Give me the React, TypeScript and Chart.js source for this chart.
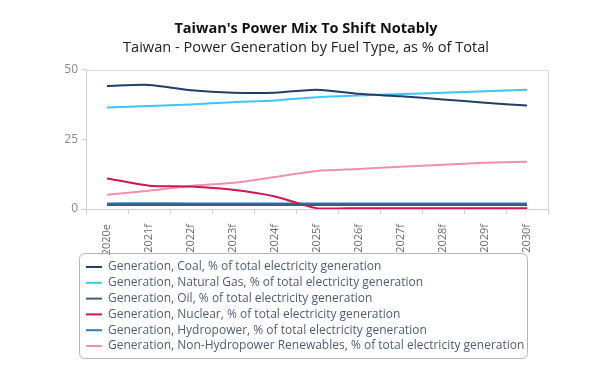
import React, { useEffect, useRef } from "react";
import { Chart, registerables } from "chart.js";

Chart.register(...registerables);

const categories = ["2020e", "2021f", "2022f", "2023f", "2024f", "2025f", "2026f", "2027f", "2028f", "2029f", "2030f"];
const coal = [44.2, 44.6, 42.7, 41.8, 41.8, 42.9, 41.4, 40.5, 39.4, 38.2, 37.2];
const naturalGas = [36.5, 37.0, 37.6, 38.4, 39.0, 40.2, 40.8, 41.3, 41.8, 42.3, 42.9];
const oil = [1.5, 1.5, 1.5, 1.5, 1.5, 1.5, 1.5, 1.5, 1.5, 1.5, 1.5];
const nuclear = [11.0, 8.4, 8.1, 6.9, 4.5, 0.3, 0.3, 0.3, 0.3, 0.3, 0.3];
const hydro = [1.9, 2.0, 1.9, 1.9, 1.9, 1.9, 1.9, 1.9, 1.9, 1.9, 1.9];
const renewables = [5.1, 6.6, 8.3, 9.4, 11.5, 13.7, 14.4, 15.2, 15.9, 16.6, 17.0];
const yTicks = [0, 25, 50];

const seriesNames = [
  "Generation, Coal, % of total electricity generation",
  "Generation, Natural Gas, % of total electricity generation",
  "Generation, Oil, % of total electricity generation",
  "Generation, Nuclear, % of total electricity generation",
  "Generation, Hydropower, % of total electricity generation",
  "Generation, Non-Hydropower Renewables, % of total electricity generation",
];
const seriesColors = ["#213e66", "#3cc6f6", "#3f5b82", "#d0154f", "#2f7fb6", "#ee90b2"];
const seriesData = [coal, naturalGas, oil, nuclear, hydro, renewables];

const FONT = "'Open Sans', sans-serif";

const frameAndLegend = {
  id: "frameAndLegend",
  beforeDatasetsDraw(chart: any) {
    const { ctx, chartArea } = chart;
    ctx.save();
    ctx.strokeStyle = "#d4d8e0";
    ctx.lineWidth = 1;
    ctx.beginPath();
    ctx.moveTo(chartArea.left, chartArea.top + 0.5);
    ctx.lineTo(chartArea.right + 0.5, chartArea.top + 0.5);
    ctx.lineTo(chartArea.right + 0.5, chartArea.bottom);
    ctx.stroke();
    ctx.restore();
  },
  afterDraw(chart: any) {
    const { ctx } = chart;
    ctx.save();
    const bx = 79.5, by = 253.5, bw = 448, bh = 105, r = 6;
    ctx.strokeStyle = "#b4b4b4";
    ctx.lineWidth = 1;
    ctx.beginPath();
    ctx.moveTo(bx + r, by);
    ctx.lineTo(bx + bw - r, by);
    ctx.quadraticCurveTo(bx + bw, by, bx + bw, by + r);
    ctx.lineTo(bx + bw, by + bh - r);
    ctx.quadraticCurveTo(bx + bw, by + bh, bx + bw - r, by + bh);
    ctx.lineTo(bx + r, by + bh);
    ctx.quadraticCurveTo(bx, by + bh, bx, by + bh - r);
    ctx.lineTo(bx, by + r);
    ctx.quadraticCurveTo(bx, by, bx + r, by);
    ctx.stroke();
    ctx.font = `12px ${FONT}`;
    ctx.textBaseline = "middle";
    ctx.textAlign = "left";
    chart.data.datasets.forEach((ds: any, i: number) => {
      const y = 267 + i * 15.8;
      ctx.strokeStyle = ds.borderColor;
      ctx.lineWidth = 2;
      ctx.beginPath();
      ctx.moveTo(86, y);
      ctx.lineTo(102, y);
      ctx.stroke();
      ctx.fillStyle = "#4e5c74";
      ctx.fillText(ds.label, 108, y);
    });
    ctx.restore();
  },
};

export default function App() {
  const ref = useRef<HTMLCanvasElement | null>(null);
  useEffect(() => {
    document.body.style.margin = "0";
    const canvas = ref.current!;
    const chart = new Chart(canvas, {
      type: "line",
      data: {
        labels: categories,
        datasets: seriesNames.map((name, i) => ({
          label: name,
          data: seriesData[i],
          borderColor: seriesColors[i],
          backgroundColor: seriesColors[i],
          borderWidth: i === 4 || i === 2 ? 2.5 : 2,
          pointRadius: 0,
          tension: 0.25,
          fill: false,
        })),
      },
      options: {
        responsive: false,
        animation: false,
        layout: { padding: { left: 64, right: 52, top: 0, bottom: 114 } },
        plugins: {
          legend: { display: false },
          tooltip: { enabled: false },
          title: {
            display: true,
            text: "Taiwan's Power Mix To Shift Notably",
            color: "#111111",
            font: { family: FONT, size: 14.5, weight: "bold" },
            padding: { top: 20, bottom: 2 },
          },
          subtitle: {
            display: true,
            text: "Taiwan - Power Generation by Fuel Type, as % of Total",
            color: "#222222",
            font: { family: FONT, size: 14.6 },
            padding: { top: 0, bottom: 13 },
          },
        },
        scales: {
          x: {
            offset: true,
            grid: { offset: true, drawOnChartArea: false, tickLength: 5, color: "#c9ced8" },
            border: { color: "#c9ced8" },
            ticks: {
              color: "#6a6a6a",
              font: { family: FONT, size: 11 },
              minRotation: 90,
              maxRotation: 90,
              autoSkip: false,
              padding: 10,
            },
            afterFit: (s: any) => { s.height = 49; },
          },
          y: {
            min: 0,
            max: 50,
            afterBuildTicks: (s: any) => { s.ticks = yTicks.map((v) => ({ value: v })); },
            grid: { drawOnChartArea: false, tickLength: 5, color: "#c9ced8" },
            border: { color: "#c9ced8" },
            ticks: { color: "#8a8a8a", font: { family: FONT, size: 12 }, padding: 3 },
            afterFit: (s: any) => { s.width = 22; },
          },
        },
      },
      plugins: [frameAndLegend],
    });
    return () => chart.destroy();
  }, []);
  return <canvas ref={ref} width={600} height={372} style={{ display: "block" }} />;
}
